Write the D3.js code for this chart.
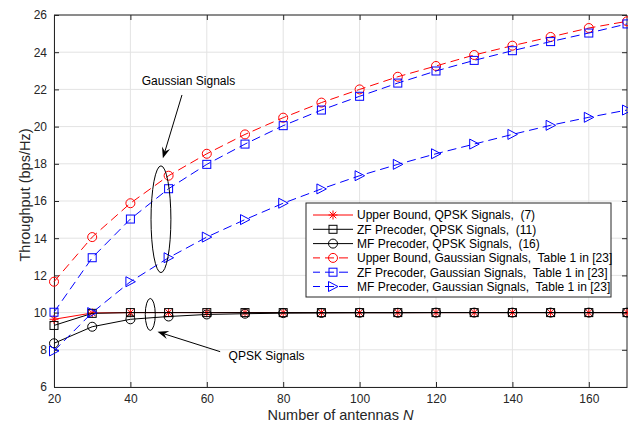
<!DOCTYPE html>
<html>
<head>
<meta charset="utf-8">
<script src="https://cdn.jsdelivr.net/npm/d3@7/dist/d3.min.js"></script>
<style>
  html, body { margin: 0; padding: 0; background: #fff; }
  svg { display: block; font-family: "Liberation Sans", Arial, sans-serif; }
</style>
</head>
<body>
<svg id="chart" width="628" height="427"></svg>
<script>
// Number of BS antennas
const antennas = [20, 30, 40, 50, 60, 70, 80, 90, 100, 110, 120, 130, 140, 150, 160, 170];

// QPSK signalling (closed-form results)
const upperQpsk = [9.64, 9.98, 10.0, 10.0, 10.0, 10.0, 10.0, 10.0, 10.0, 10.0, 10.0, 10.0, 10.0, 10.0, 10.0, 10.0];
const zfQpsk    = [9.31, 9.96, 10.0, 10.0, 10.0, 10.0, 10.0, 10.0, 10.0, 10.0, 10.0, 10.0, 10.0, 10.0, 10.0, 10.0];
const mfQpsk    = [8.35, 9.24, 9.64, 9.79, 9.90, 9.94, 9.97, 9.98, 9.99, 9.99, 10.0, 10.0, 10.0, 10.0, 10.0, 10.0];

// Gaussian signalling
const upperGauss = [11.66, 14.06, 15.88, 17.36, 18.54, 19.58, 20.48, 21.29, 22.0, 22.68, 23.26, 23.85, 24.35, 24.82, 25.3, 25.66];
const zfGauss    = [10.02, 12.95, 15.03, 16.66, 17.97, 19.06, 20.05, 20.89, 21.63, 22.34, 22.99, 23.56, 24.08, 24.57, 25.03, 25.52];
const mfGauss    = [7.94, 10.0, 11.66, 12.95, 14.06, 15.0, 15.88, 16.65, 17.36, 17.97, 18.54, 19.06, 19.58, 20.07, 20.5, 20.89];

const xTicks = [20, 40, 60, 80, 100, 120, 140, 160];
const yTicks = [6, 8, 10, 12, 14, 16, 18, 20, 22, 24, 26];

const seriesNames = [
  "Upper Bound, QPSK Signals,  (7)",
  "ZF Precoder, QPSK Signals,  (11)",
  "MF Precoder, QPSK Signals,  (16)",
  "Upper Bound, Gaussian Signals,  Table 1 in [23]",
  "ZF Precoder, Gaussian Signals,  Table 1 in [23]",
  "MF Precoder, Gaussian Signals,  Table 1 in [23]"
];
const seriesValues = [upperQpsk, zfQpsk, mfQpsk, upperGauss, zfGauss, mfGauss];
const seriesStyle = [
  { color: "#ff0000", marker: "star",     dash: null },
  { color: "#000000", marker: "square",   dash: null },
  { color: "#000000", marker: "circle",   dash: null },
  { color: "#ff0000", marker: "circle",   dash: "9,5" },
  { color: "#0000ff", marker: "square",   dash: "9,5" },
  { color: "#0000ff", marker: "triangle", dash: "9,5" }
];

const svg = d3.select("#chart");
const margin = { left: 54, top: 15, right: 1, bottom: 40 };
const W = 628, H = 427;
const x = d3.scaleLinear().domain([20, 170]).range([margin.left, W - margin.right]);
const y = d3.scaleLinear().domain([6, 26]).range([H - margin.bottom, margin.top]);

// grid
const grid = svg.append("g");
grid.selectAll("line.gx").data(xTicks).join("line")
  .attr("x1", d => x(d)).attr("x2", d => x(d))
  .attr("y1", y(6)).attr("y2", y(26))
  .attr("stroke", "#e3e3e3").attr("stroke-width", 1);
grid.selectAll("line.gy").data(yTicks).join("line")
  .attr("x1", x(20)).attr("x2", x(170))
  .attr("y1", d => y(d)).attr("y2", d => y(d))
  .attr("stroke", "#e3e3e3").attr("stroke-width", 1);

// axes (ticks inside, box on)
const tickLen = 5;
const axisColor = "#262626";
const xAxis = svg.append("g").attr("transform", `translate(0,${y(6)})`)
  .call(d3.axisBottom(x).tickValues(xTicks).tickSize(-tickLen).tickPadding(7).tickSizeOuter(0));
const yAxis = svg.append("g").attr("transform", `translate(${x(20)},0)`)
  .call(d3.axisLeft(y).tickValues(yTicks).tickSize(-tickLen).tickPadding(7).tickSizeOuter(0));
const xTop = svg.append("g").attr("transform", `translate(0,${y(26)})`)
  .call(d3.axisTop(x).tickValues(xTicks).tickSize(-tickLen).tickFormat("").tickSizeOuter(0));
const yRight = svg.append("g").attr("transform", `translate(${x(170)},0)`)
  .call(d3.axisRight(y).tickValues(yTicks).tickSize(-tickLen).tickFormat("").tickSizeOuter(0));
[xAxis, yAxis, xTop, yRight].forEach(a => {
  a.selectAll("path.domain").attr("stroke", axisColor).attr("stroke-width", 1);
  a.selectAll(".tick line").attr("stroke", axisColor);
  a.selectAll("text").attr("fill", "#262626").style("font-size", "12px")
    .style("font-family", '"Liberation Sans", Arial, sans-serif');
});
xTop.select("path.domain").remove();
yRight.select("path.domain").remove();
svg.append("line").attr("x1", x(20)).attr("x2", x(170)).attr("y1", y(26)).attr("y2", y(26))
  .attr("stroke", axisColor);
svg.append("line").attr("x1", x(170)).attr("x2", x(170)).attr("y1", y(26)).attr("y2", y(6))
  .attr("stroke", axisColor);

// axis titles
svg.append("text")
  .attr("x", (x(20) + x(170)) / 2).attr("y", H - 7.5)
  .attr("text-anchor", "middle").attr("fill", "#262626").style("font-size", "14.5px")
  .html('Number of antennas <tspan font-style="italic">N</tspan>');
svg.append("text")
  .attr("transform", `translate(30,${(y(6) + y(26)) / 2 - 6}) rotate(-90)`)
  .attr("text-anchor", "middle").attr("fill", "#262626").style("font-size", "14.5px")
  .text("Throughput (bps/Hz)");

// marker drawing
function drawMarker(g, type, color, cx, cy) {
  if (type === "circle") {
    g.append("circle").attr("cx", cx).attr("cy", cy).attr("r", 4.5)
      .attr("fill", "none").attr("stroke", color).attr("stroke-width", 1);
  } else if (type === "square") {
    g.append("rect").attr("x", cx - 4).attr("y", cy - 4).attr("width", 8).attr("height", 8)
      .attr("fill", "none").attr("stroke", color).attr("stroke-width", 1);
  } else if (type === "triangle") {
    g.append("path").attr("d", `M${cx + 5},${cy} L${cx - 4.5},${cy - 5} L${cx - 4.5},${cy + 5} Z`)
      .attr("fill", "none").attr("stroke", color).attr("stroke-width", 1);
  } else if (type === "star") {
    const r = 4.5, d = r * 0.72;
    g.append("path")
      .attr("d", `M${cx},${cy - r}V${cy + r}M${cx - r},${cy}H${cx + r}` +
                 `M${cx - d},${cy - d}L${cx + d},${cy + d}M${cx - d},${cy + d}L${cx + d},${cy - d}`)
      .attr("fill", "none").attr("stroke", color).attr("stroke-width", 1);
  }
}

const lineGen = d3.line().x(d => x(d[0])).y(d => y(d[1]));
const plot = svg.append("g");
seriesValues.forEach((vals, i) => {
  const st = seriesStyle[i];
  const pts = antennas.map((n, k) => [n, vals[k]]);
  plot.append("path").datum(pts).attr("d", lineGen)
    .attr("fill", "none").attr("stroke", st.color).attr("stroke-width", 1)
    .attr("stroke-dasharray", st.dash);
  const mg = plot.append("g");
  pts.forEach(p => drawMarker(mg, st.marker, st.color, x(p[0]), y(p[1])));
});

// legend
const lg = svg.append("g");
const lgX = 306, lgY = 203, lgW = 305, lgH = 94, rowH = 14.3;
lg.append("rect").attr("x", lgX).attr("y", lgY).attr("width", lgW).attr("height", lgH)
  .attr("fill", "#fff").attr("stroke", "#262626").attr("stroke-width", 1);
seriesNames.forEach((name, i) => {
  const st = seriesStyle[i];
  const ry = lgY + 12 + i * rowH;
  lg.append("line").attr("x1", lgX + 7).attr("x2", lgX + 47).attr("y1", ry).attr("y2", ry)
    .attr("stroke", st.color).attr("stroke-width", 1)
    .attr("stroke-dasharray", st.dash ? "9,5" : null)
    .attr("stroke-dashoffset", st.dash ? 2 : null);
  drawMarker(lg, st.marker, st.color, lgX + 27, ry);
  lg.append("text").attr("x", lgX + 51).attr("y", ry + 4.3)
    .attr("fill", "#000").style("font-size", "12px").style("white-space", "pre")
    .text(name);
});

// annotations (in data coordinates)
function arrow(x1, y1, x2, y2) {
  const ax = x(x1), ay = y(y1), bx = x(x2), by = y(y2);
  const ang = Math.atan2(by - ay, bx - ax);
  const L = 11, Wd = 4.2, back = 7;
  const ux = Math.cos(ang), uy = Math.sin(ang), px = -uy, py = ux;
  const baseX = bx - ux * L, baseY = by - uy * L;
  svg.append("line").attr("x1", ax).attr("y1", ay)
    .attr("x2", bx - ux * back).attr("y2", by - uy * back)
    .attr("stroke", "#000").attr("stroke-width", 1);
  svg.append("path")
    .attr("d", `M${bx},${by} L${baseX + px * Wd},${baseY + py * Wd} L${bx - ux * back},${by - uy * back} L${baseX - px * Wd},${baseY - py * Wd} Z`)
    .attr("fill", "#000");
}
function ellipse(cx, cy, rxN, ryV) {
  svg.append("ellipse").attr("cx", x(cx)).attr("cy", y(cy))
    .attr("rx", x(cx + rxN) - x(cx)).attr("ry", y(cy) - y(cy + ryV))
    .attr("fill", "none").attr("stroke", "#000").attr("stroke-width", 1);
}

ellipse(48.0, 15.02, 2.6, 2.87);
arrow(53.5, 21.7, 48.5, 18.3);
svg.append("text").attr("x", x(55.2)).attr("y", y(22.47) + 4.5)
  .attr("text-anchor", "middle").attr("fill", "#000").style("font-size", "12px")
  .text("Gaussian Signals");

ellipse(45.2, 9.9, 1.31, 0.86);
arrow(63.5, 7.9, 47.1, 8.97);
svg.append("text").attr("x", x(65.7)).attr("y", y(7.67) + 4.5)
  .attr("fill", "#000").style("font-size", "12px")
  .text("QPSK Signals");
</script>
</body>
</html>
